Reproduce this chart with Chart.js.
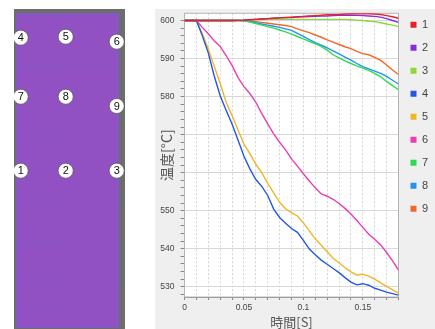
<!DOCTYPE html>
<html>
<head>
<meta charset="utf-8">
<script src="https://cdn.jsdelivr.net/npm/chart.js@4/dist/chart.umd.min.js"></script>
<style>
  html, body { margin: 0; padding: 0; background: #ffffff; }
  body { width: 435px; height: 329px; position: relative; overflow: hidden; }
  #specimen { position: absolute; left: 14px; top: 9px; }
  #tempChart { position: absolute; left: 155px; top: 9px; }
</style>
</head>
<body>
<canvas id="specimen" width="111" height="320"></canvas>
<canvas id="tempChart" width="280" height="320"></canvas>
<script>
// ---- thermocouple layout on the specimen (diagram units) ----
const sensorNames = ['1', '2', '3', '4', '5', '6', '7', '8', '9'];
const sensorX = [6.7, 51.7, 102.7, 6.7, 51.7, 102.7, 6.7, 51.7, 102.7];
const sensorY = [161.7, 161.7, 161.7, 28.7, 27.7, 32.7, 87.7, 87.7, 97.0];

// ---- cooling curves: time [s] and temperature [°C] per thermocouple ----
const times = [0, 0.005, 0.01, 0.015, 0.02, 0.025, 0.03, 0.035, 0.04, 0.045,
  0.05, 0.055, 0.06, 0.065, 0.07, 0.075, 0.08, 0.085, 0.09, 0.095,
  0.1, 0.105, 0.11, 0.115, 0.12, 0.125, 0.13, 0.135, 0.14, 0.145,
  0.15, 0.155, 0.16, 0.165, 0.17, 0.175, 0.18];

const temp1 = [600, 600, 600, 600, 600, 600, 600, 600, 600, 600.05,
  600.1, 600.2, 600.3, 600.4, 600.5, 600.6, 600.7, 600.8, 600.9, 601,
  601.1, 601.2, 601.3, 601.4, 601.5, 601.55, 601.6, 601.7, 601.8, 601.8,
  601.8, 601.8, 601.7, 601.6, 601.3, 601, 600.6];
const temp2 = [600, 600, 600, 600, 600, 600, 600, 600, 600, 600.05,
  600.1, 600.2, 600.3, 600.4, 600.5, 600.6, 600.7, 600.75, 600.8, 600.9,
  601, 601.05, 601.1, 601.15, 601.2, 601.3, 601.4, 601.4, 601.4, 601.35,
  601.3, 601.2, 601.1, 600.9, 600.5, 600, 599.5];
const temp3 = [600, 600, 600, 600, 600, 600, 600, 600, 600, 600.05,
  600.1, 600.15, 600.2, 600.25, 600.3, 600.3, 600.3, 600.3, 600.3, 600.3,
  600.3, 600.3, 600.3, 600.3, 600.3, 600.3, 600.3, 600.3, 600.2, 600.1,
  600, 599.8, 599.7, 599.4, 599.1, 598.8, 598.4];
const temp4 = [600, 600, 600, 596, 591.5, 585.4, 580.2, 576.4, 572.8, 568.6,
  564.3, 561, 558.2, 556.4, 554, 550.4, 548.2, 546.7, 545.3, 544.3,
  542.2, 539.9, 538.4, 537, 535.9, 534.8, 533.7, 532.4, 531.2, 530.5,
  530.8, 530.4, 529.6, 529.1, 528.6, 528.2, 527.8];
const temp5 = [600, 600, 600, 596.5, 592.5, 588, 583.5, 578.5, 575, 571.2,
  567.5, 565, 562.2, 560, 557.2, 554.7, 552.2, 550.5, 549.5, 548.6,
  546.8, 544.7, 542.6, 540.9, 539.2, 537.5, 536.3, 535, 533.9, 533.1,
  533.3, 532.8, 532, 531, 530.1, 529.2, 528.3];
const temp6 = [600, 600, 600, 598.2, 596.5, 594.7, 593.2, 590.8, 588.2, 585,
  582.6, 580.8, 578.5, 575.5, 572.8, 570.2, 568, 566, 563.6, 561.7,
  559.7, 557.8, 556, 554.4, 553.8, 553, 551.9, 550.6, 549.1, 547.4,
  545.6, 543.8, 542.5, 541, 539, 536.8, 534.4];
const temp7 = [600, 600, 600, 600, 600, 600, 600, 600, 600, 600,
  599.9, 599.6, 599.2, 598.8, 598.4, 598, 597.5, 597, 596.4, 595.8,
  595.2, 594.5, 593.9, 593.2, 592.2, 591, 590.2, 589.4, 588.7, 588.1,
  587.5, 586.9, 586.1, 585.2, 584, 582.9, 581.8];
const temp8 = [600, 600, 600, 600, 600, 600, 600, 600, 600, 600,
  599.9, 599.7, 599.4, 599.1, 598.8, 598.5, 598.2, 597.8, 597.4, 596.6,
  595.8, 595, 594.2, 593.5, 592.8, 592, 591.2, 590.4, 589.6, 588.7,
  587.9, 587.3, 586.7, 586.1, 585.3, 584.3, 583.3];
const temp9 = [600, 600, 600, 600, 600, 600, 600, 600, 600, 600,
  600, 599.9, 599.7, 599.5, 599.3, 599.1, 598.9, 598.7, 598.4, 597.8,
  597.3, 596.8, 596.2, 595.6, 594.9, 594.3, 593.7, 593.1, 592.6, 591.9,
  591.3, 591, 590.3, 589.5, 588.3, 587, 585.8];

const seriesNames = ['1', '2', '3', '4', '5', '6', '7', '8', '9'];
const seriesTemps = [temp1, temp2, temp3, temp4, temp5, temp6, temp7, temp8, temp9];
const seriesColors = ['#e8202a', '#8a2be2', '#8cd83a', '#2457e6', '#f2b526',
  '#ea3db8', '#2cdc55', '#2594ee', '#f0682a'];

// axis tick values
const tempTicks = [530, 540, 550, 560, 570, 580, 590, 600];
const hiddenTempLabels = [560, 570];
const timeLabelTicks = [0, 0.05, 0.1, 0.15];

const FONT = "'Liberation Sans', Arial, sans-serif";
const CJK = "'Noto Sans CJK JP', 'Noto Sans CJK SC', sans-serif";

// ---------- specimen diagram ----------
const specimenFrame = {
  id: 'specimenFrame',
  beforeDatasetsDraw(chart) {
    const { ctx, width, height } = chart;
    ctx.save();
    ctx.fillStyle = '#6d6d6d';
    ctx.fillRect(0, 0, width, height);
    ctx.fillStyle = '#9251c3';
    ctx.fillRect(2, 4.3, width - 8, height - 5.3);
    // mesh outline
    ctx.strokeStyle = 'rgba(70, 115, 240, 0.75)';
    ctx.lineWidth = 1;
    ctx.setLineDash([2, 3]);
    ctx.strokeRect(3, 5, width - 10, height - 7);
    ctx.strokeStyle = 'rgba(70, 115, 240, 0.35)';
    [56, 124, 193, 234, 268, 301].forEach(y => {
      ctx.beginPath();
      ctx.moveTo(3, y + 0.5);
      ctx.lineTo(width - 7, y + 0.5);
      ctx.stroke();
    });
    ctx.restore();
  },
  afterDatasetsDraw(chart) {
    const { ctx } = chart;
    const meta = chart.getDatasetMeta(0);
    ctx.save();
    ctx.fillStyle = '#111';
    ctx.font = '11px ' + FONT;
    ctx.textAlign = 'center';
    ctx.textBaseline = 'middle';
    meta.data.forEach((pt, i) => {
      ctx.fillText(sensorNames[i], pt.x, pt.y + 0.5);
    });
    ctx.restore();
  }
};

new Chart(document.getElementById('specimen'), {
  type: 'scatter',
  data: {
    datasets: [{
      data: sensorX.map((x, i) => ({ x, y: sensorY[i] })),
      pointRadius: 7.5,
      pointBackgroundColor: '#ffffff',
      pointBorderColor: '#444',
      pointBorderWidth: 0.6,
      clip: false
    }]
  },
  options: {
    responsive: false,
    devicePixelRatio: 1,
    animation: false,
    layout: { padding: 0, autoPadding: false },
    plugins: { legend: { display: false }, tooltip: { enabled: false } },
    scales: {
      x: { type: 'linear', min: 0, max: 111, display: false },
      y: { type: 'linear', min: 0, max: 320, reverse: true, display: false }
    }
  },
  plugins: [specimenFrame]
});

// ---------- temperature chart ----------
const plotBackground = {
  id: 'plotBackground',
  beforeDraw(chart) {
    const { ctx, chartArea: a } = chart;
    // lift the legend column so its rows sit level with the plot's upper part
    if (chart.legend) chart.legend.top = a.top - 6;
    ctx.save();
    ctx.fillStyle = '#efefef';
    ctx.fillRect(0, 0, chart.width, chart.height);
    ctx.fillStyle = '#ffffff';
    ctx.fillRect(a.left, a.top, a.right - a.left, a.bottom - a.top);
    ctx.restore();
  },
  beforeDatasetsDraw(chart) {
    const { ctx, chartArea: a } = chart;
    ctx.save();
    ctx.strokeStyle = '#b4b4b4';
    ctx.lineWidth = 1;
    ctx.strokeRect(a.left, a.top, a.right - a.left, a.bottom - a.top);
    ctx.restore();
  }
};

new Chart(document.getElementById('tempChart'), {
  type: 'line',
  data: {
    datasets: seriesNames.map((name, k) => ({
      label: name,
      data: times.map((t, i) => ({ x: t, y: seriesTemps[k][i] })),
      borderColor: seriesColors[k],
      backgroundColor: seriesColors[k],
      borderWidth: 1.4,
      pointRadius: 0,
      tension: 0,
      fill: false
    }))
  },
  options: {
    responsive: false,
    devicePixelRatio: 1,
    animation: false,
    layout: { padding: { top: 4.3, right: 6.5, bottom: 0, left: 0 }, autoPadding: false },
    plugins: {
      tooltip: { enabled: false },
      legend: {
        position: 'right',
        align: 'start',
        maxWidth: 30,
        labels: {
          boxWidth: 6,
          boxHeight: 6,
          padding: 12,
          color: '#444',
          font: { size: 11, family: "'Liberation Sans Narrow', " + FONT },
          generateLabels(chart) {
            return Chart.defaults.plugins.legend.labels.generateLabels(chart)
              .map(item => Object.assign(item, { lineWidth: 0 }));
          }
        }
      }
    },
    scales: {
      x: {
        type: 'linear',
        min: 0,
        max: 0.18,
        afterFit(scale) {
          scale.height = 32;
          scale.paddingLeft = 0;
          scale.paddingRight = 0;
        },
        afterBuildTicks(scale) {
          const ticks = [];
          for (let i = 0; i <= 18; i++) ticks.push({ value: i / 100 });
          scale.ticks = ticks;
        },
        ticks: {
          autoSkip: false,
          maxRotation: 0,
          padding: 3,
          color: '#444',
          font: { size: 8.5, family: FONT },
          callback(v) {
            const hit = timeLabelTicks.find(t => Math.abs(t - v) < 1e-9);
            return hit === undefined ? '' : String(hit);
          }
        },
        grid: {
          color: '#d4d4d4',
          lineWidth: 1,
          tickLength: 3,
          tickColor: '#888'
        },
        border: { display: true, color: '#888', dash: [2, 2] },
        title: {
          display: true,
          text: '時間[S]',
          color: '#555',
          padding: { top: 0, bottom: 0 },
          font: { size: 13, family: CJK, lineHeight: 1 }
        }
      },
      y: {
        type: 'linear',
        min: 527.3,
        max: 601.9,
        afterFit(scale) {
          scale.width = 29.5;
          scale.paddingTop = 0;
          scale.paddingBottom = 0;
        },
        afterBuildTicks(scale) {
          const ticks = [];
          for (let v = 528; v <= 600; v += 2) ticks.push({ value: v });
          scale.ticks = ticks;
        },
        ticks: {
          autoSkip: false,
          padding: 6,
          color: '#444',
          font: { size: 8.5, family: FONT },
          callback(v) {
            return tempTicks.includes(v) && !hiddenTempLabels.includes(v) ? String(v) : '';
          }
        },
        grid: {
          color: ctx => (ctx.tick && tempTicks.includes(ctx.tick.value)) ? '#d8d8d8' : 'rgba(0,0,0,0)',
          tickColor: '#888',
          tickLength: 4,
          lineWidth: 1
        },
        border: { display: true, color: '#888' },
        title: {
          display: true,
          text: '温度[°C]',
          color: '#555',
          padding: { top: 5, bottom: 0 },
          font: { size: 14, family: CJK, lineHeight: 1 }
        }
      }
    }
  },
  plugins: [plotBackground]
});
</script>
</body>
</html>
